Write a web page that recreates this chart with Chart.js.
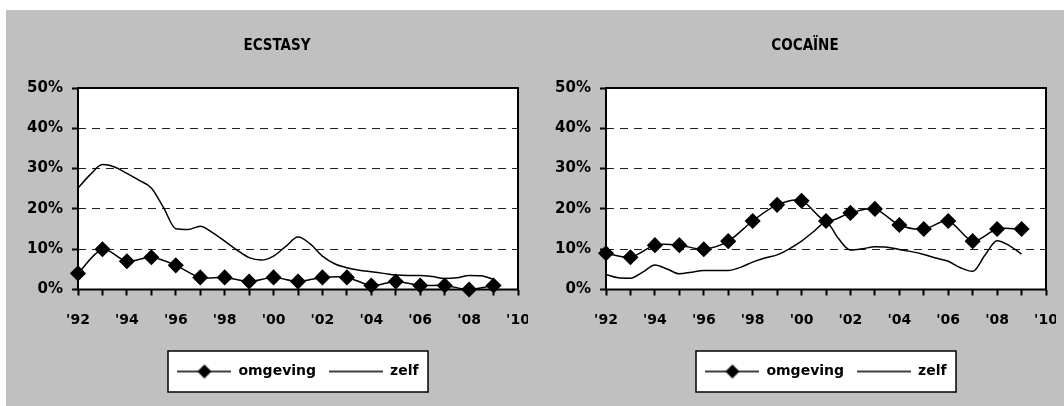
<!DOCTYPE html>
<html>
<head>
<meta charset="utf-8">
<script src="https://cdn.jsdelivr.net/npm/chart.js"></script>
<style>
  body { margin: 0; background: #fff; }
  #panel { position: absolute; left: 6px; top: 10px; width: 1058px; height: 396px; background: #c0c0c0; }
  canvas { position: absolute; top: 10px; }
</style>
</head>
<body>
<div id="panel"></div>
<canvas id="ecstasy" width="528" height="396" style="left:0px"></canvas>
<canvas id="cocaine" width="528" height="396" style="left:528px"></canvas>

<script>
// -- Survey years (markers) and half-year steps (smooth line).
const years = [1992, 1993, 1994, 1995, 1996, 1997, 1998, 1999, 2000,
               2001, 2002, 2003, 2004, 2005, 2006, 2007, 2008, 2009];
const halfYears = [1992, 1992.5, 1993, 1993.5, 1994, 1994.5, 1995, 1995.5, 1996, 1996.5,
                   1997, 1997.5, 1998, 1998.5, 1999, 1999.5, 2000, 2000.5, 2001, 2001.5,
                   2002, 2002.5, 2003, 2003.5, 2004, 2004.5, 2005, 2005.5, 2006, 2006.5,
                   2007, 2007.5, 2008, 2008.5, 2009];

// -- ECSTASY
const ecstasyOmgeving = [4, 10, 7, 8, 6, 3, 3, 2, 3, 2, 3, 3, 1, 2, 1, 1, 0, 1];
const ecstasyZelf = [25.2, 28.5, 31.0, 30.4, 28.8, 27.1, 25.2, 20.3, 15.1, 14.9,
                     15.7, 14.1, 12.0, 9.8, 7.9, 7.3, 8.3, 10.7, 13.0, 11.3,
                     8.3, 6.4, 5.4, 4.8, 4.4, 4.0, 3.6, 3.5, 3.5, 3.2,
                     2.7, 2.9, 3.5, 3.4, 2.5];

// -- COCAINE
const cocaineOmgeving = [9, 8, 11, 11, 10, 12, 17, 21, 22, 17, 19, 20, 16, 15, 17, 12, 15, 15];
const cocaineZelf = [3.7, 2.9, 2.8, 4.3, 6.1, 5.1, 3.9, 4.3, 4.7, 4.7,
                     4.7, 5.5, 6.8, 7.8, 8.6, 10.1, 12.0, 14.4, 16.7, 12.7,
                     9.8, 10.1, 10.6, 10.5, 9.9, 9.4, 8.7, 7.8, 7.0, 5.4,
                     4.5, 8.5, 12.1, 10.9, 8.8];

const yTicks = [0, 10, 20, 30, 40, 50];

Chart.defaults.font.family = "'DejaVu Sans', sans-serif";
Chart.defaults.font.weight = 'bold';
Chart.defaults.font.size = 14;
Chart.defaults.color = '#000';

// -- Little legend glyphs: a line, with or without the diamond.
const legend_symbol = (withMarker) => {
  const c = document.createElement('canvas');
  c.width = 54;
  c.height = 16;
  const g = c.getContext('2d');
  g.strokeStyle = '#000';
  g.lineWidth = 1.5;
  g.beginPath();
  g.moveTo(0, 8);
  g.lineTo(54, 8);
  g.stroke();
  if (withMarker) {
    g.fillStyle = '#000';
    g.beginPath();
    g.moveTo(27, 1);
    g.lineTo(34, 8);
    g.lineTo(27, 15);
    g.lineTo(20, 8);
    g.closePath();
    g.fill();
  }
  return c;
};
const symbols = [legend_symbol(true), legend_symbol(false)];

// -- White plot area, black frame round it and the framed legend.
const frame = {
  id: 'frame',
  beforeDraw(chart) {
    const {ctx, chartArea: a, legend} = chart;
    ctx.save();
    ctx.fillStyle = '#fff';
    ctx.fillRect(a.left, a.top, a.right - a.left, a.bottom - a.top);

    const boxes = legend.legendHitBoxes;
    const l = Math.min(...boxes.map(b => b.left));
    const r = Math.max(...boxes.map(b => b.left + b.width));
    const cx = (l + r) / 2;
    const cy = boxes[0].top + boxes[0].height / 2;
    ctx.fillRect(cx - 130, cy - 20.5, 260, 41);
    ctx.strokeStyle = '#000';
    ctx.lineWidth = 1.5;
    ctx.strokeRect(cx - 130, cy - 20.5, 260, 41);
    ctx.restore();
  },
  afterDatasetsDraw(chart) {
    const {ctx, chartArea: a} = chart;
    ctx.save();
    ctx.strokeStyle = '#000';
    ctx.lineWidth = 2;
    ctx.strokeRect(a.left, a.top, a.right - a.left, a.bottom - a.top);
    ctx.restore();
  }
};

const build_chart = (id, title, omgeving, zelf) => new Chart(
  document.getElementById(id),
  {
    type: 'line',
    data: {
      datasets: [
        {
          label: 'omgeving',
          data: years.map((x, i) => ({x, y: omgeving[i]})),
          borderColor: '#000',
          backgroundColor: '#000',
          borderWidth: 1.5,
          pointStyle: 'rectRot',
          pointRadius: 7,
          pointHoverRadius: 7,
          tension: 0.3,
          clip: false,
        },
        {
          label: 'zelf',
          data: halfYears.map((x, i) => ({x, y: zelf[i]})),
          borderColor: '#000',
          backgroundColor: '#000',
          borderWidth: 1.5,
          pointRadius: 0,
          cubicInterpolationMode: 'monotone',
          clip: false,
        },
      ],
    },
    options: {
      responsive: false,
      animation: false,
      events: [],
      layout: {padding: {left: 26, right: 0, top: 0, bottom: 17.5}},
      scales: {
        x: {
          type: 'linear',
          min: 1992,
          max: 2010,
          afterFit: (scale) => {
            scale.height = 62;
            scale.paddingLeft = 0;
            scale.paddingRight = 10;
          },
          ticks: {
            stepSize: 1,
            autoSkip: false,
            maxRotation: 0,
            padding: 16,
            callback: (v) => v % 2 === 0 ? "'" + String(v).slice(2) : '',
          },
          grid: {drawOnChartArea: false, tickLength: 6, tickColor: '#000', tickWidth: 2},
          border: {display: false},
        },
        y: {
          min: 0,
          max: 50,
          afterFit: (scale) => { scale.width = 52; },
          afterBuildTicks: (scale) => { scale.ticks = yTicks.map(value => ({value})); },
          ticks: {
            padding: 9,
            font: {size: 15},
            callback: (v) => v + '%',
          },
          grid: {
            color: (ctx) => (ctx.tick.value === 0 || ctx.tick.value === 50) ? 'rgba(0,0,0,0)' : '#222',
            lineWidth: 1,
            tickColor: '#000',
            tickWidth: 2,
            tickLength: 6,
            tickBorderDash: [],
          },
          border: {display: false, dash: [8, 6]},
        },
      },
      plugins: {
        title: {
          display: true,
          text: title,
          color: '#000',
          font: {family: "'DejaVu Sans Condensed', 'DejaVu Sans', sans-serif", size: 15, weight: 'bold'},
          padding: {top: 27, bottom: 33},
        },
        legend: {
          position: 'bottom',
          fullSize: false,
          labels: {
            usePointStyle: true,
            pointStyleWidth: 54,
            padding: 13,
            color: '#000',
            font: {size: 14, weight: 'bold'},
            generateLabels: (chart) => {
              const items = Chart.defaults.plugins.legend.labels.generateLabels(chart);
              items.forEach((it, i) => { it.pointStyle = symbols[i]; });
              return items;
            },
          },
        },
        tooltip: {enabled: false},
      },
    },
    plugins: [frame],
  }
);

build_chart('ecstasy', 'ECSTASY', ecstasyOmgeving, ecstasyZelf);
build_chart('cocaine', 'COCAÏNE', cocaineOmgeving, cocaineZelf);
</script>
</body>
</html>
